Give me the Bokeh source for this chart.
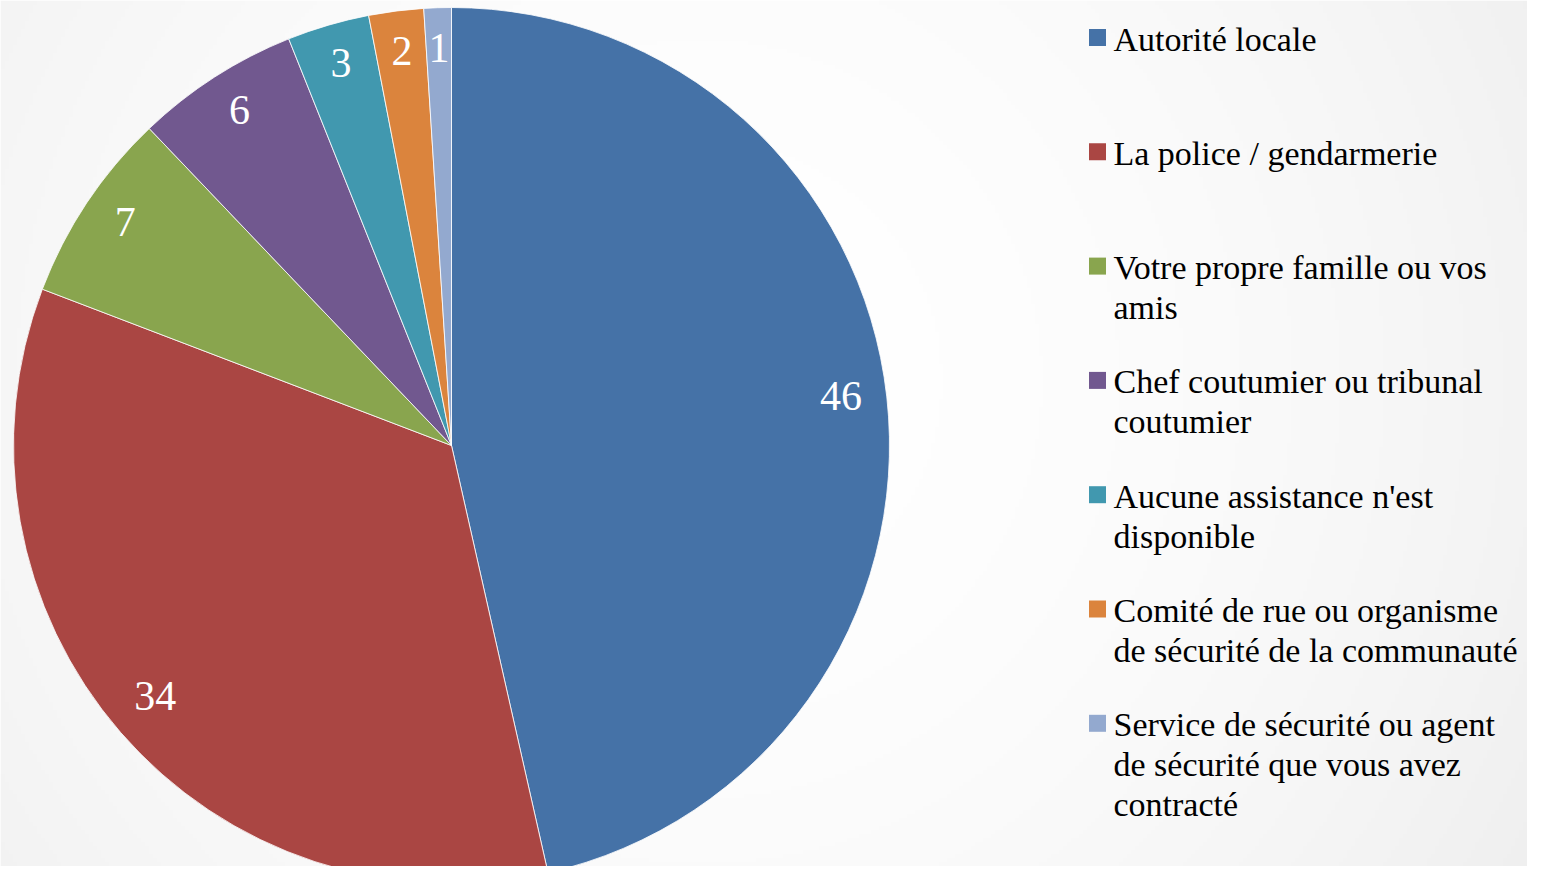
import math
import textwrap
import numpy as np
from bokeh.plotting import figure
from bokeh.models import Range1d, ColumnDataSource
from bokeh.core.properties import value
from bokeh.embed import file_html
from bokeh.resources import INLINE

# ---- data ----
categories = [
    "Autorité locale",
    "La police / gendarmerie",
    "Votre propre famille ou vos amis",
    "Chef coutumier ou tribunal coutumier",
    "Aucune assistance n'est disponible",
    "Comité de rue ou organisme de sécurité de la communauté",
    "Service de sécurité ou agent de sécurité que vous avez contracté",
]
values = [46, 34, 7, 6, 3, 2, 1]
colors = ["#4572A7", "#AA4643", "#89A54E", "#71588F", "#4198AF", "#DB843D", "#93A9CF"]

W, H = 1527, 866
FONT = "Liberation Serif"

p = figure(width=W, height=H, output_backend="svg", toolbar_location=None,
           x_range=Range1d(0, W), y_range=Range1d(0, H), min_border=0)
p.axis.visible = False
p.grid.visible = False
p.outline_line_color = None
p.background_fill_color = "white"
p.border_fill_color = "white"

# background radial gradient (decoration)
gw, gh = W // 4 + 1, H // 4 + 1
gx, gy = np.meshgrid(np.linspace(0, W, gw), np.linspace(0, H, gh))
sx = gx
sy = H - gy
d = np.sqrt((sx - 700) ** 2 + (sy - 380) ** 2) / 1000.0
g = np.clip(255 - 17 * d ** 2, 0, 255).astype(np.uint32)
img = (255 << 24) | (g << 16) | (g << 8) | g
p.image_rgba(image=[img.astype(np.uint32)], x=0, y=0, dw=W, dh=H)

# pie
cx, cy, R = 451, H - 445, 438
total = sum(values)
cum = np.cumsum([0] + values)
starts = [math.pi / 2 - 2 * math.pi * cum[i] / total for i in range(len(values))]
ends = [math.pi / 2 - 2 * math.pi * cum[i + 1] / total for i in range(len(values))]
src = ColumnDataSource(dict(start=starts, end=ends, color=colors))
p.wedge(x=cx, y=cy, radius=R, start_angle="start", end_angle="end", direction="clock",
        fill_color="color", line_color="white", line_width=1, line_alpha=0.8, source=src)

# labels
mids = [(s + e) / 2 for s, e in zip(starts, ends)]
lr = 392
lx = [cx + lr * math.cos(m) for m in mids]
ly = [cy + lr * math.sin(m) + 6 for m in mids]
p.text(x=lx, y=ly, text=[str(v) for v in values], text_color="white",
       text_font=value(FONT), text_font_size="42px", text_align="center",
       text_baseline="middle")

# legend (manual)
sq_x = 1097
txt_x = 1113
tx, ty, tt = [], [], []
sqy = []
for i, cat in enumerate(categories):
    yc = H - (37 + 114.3 * i)
    sqy.append(yc)
    for j, line in enumerate(textwrap.wrap(cat, width=28)):
        tx.append(txt_x)
        ty.append(yc - 1.5 - 40 * j)
        tt.append(line)
p.rect(x=[sq_x] * len(categories), y=sqy, width=17, height=17, fill_color=colors,
       line_color=None)
p.text(x=tx, y=ty, text=tt, text_color="black", text_font=value(FONT),
       text_font_size="34px", text_align="left", text_baseline="middle")

open("out.html", "w").write(file_html(p, INLINE))
